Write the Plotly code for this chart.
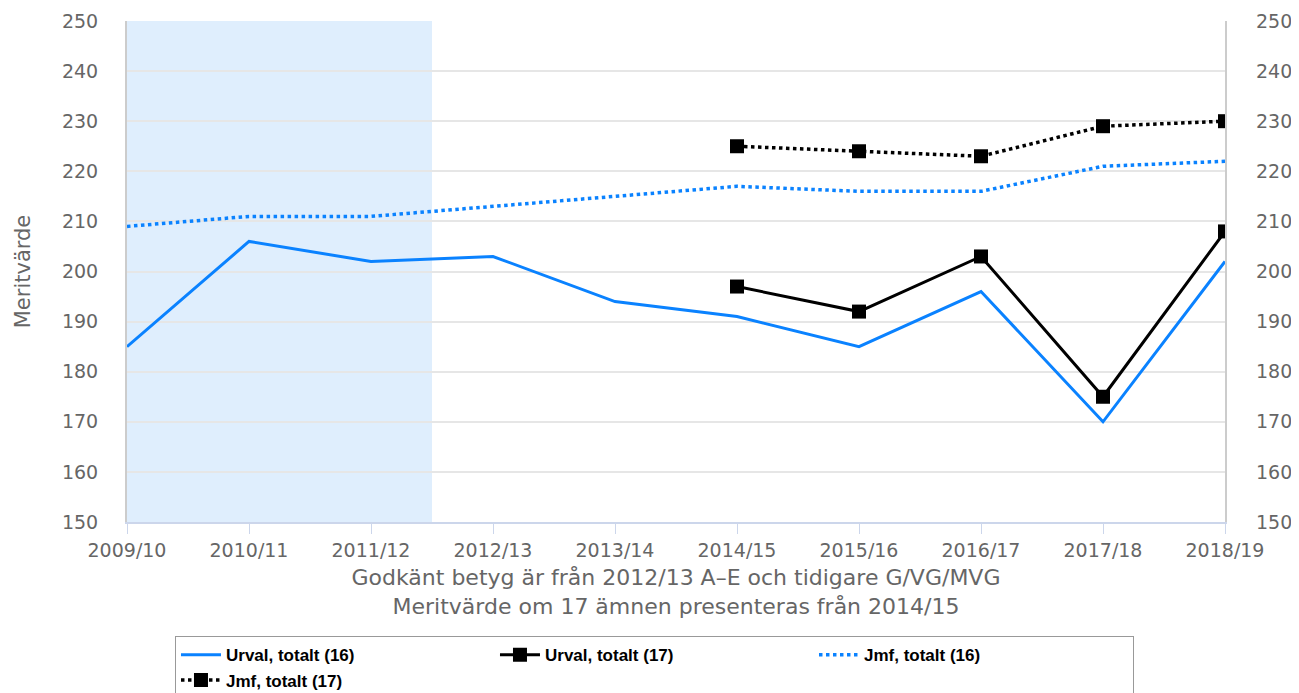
import plotly.graph_objects as go

years = ["2009/10", "2010/11", "2011/12", "2012/13", "2013/14",
         "2014/15", "2015/16", "2016/17", "2017/18", "2018/19"]
urval16 = [185, 206, 202, 203, 194, 191, 185, 196, 170, 202]
urval17 = [None, None, None, None, None, 197, 192, 203, 175, 208]
jmf16 = [209, 211, 211, 213, 215, 217, 216, 216, 221, 222]
jmf17 = [None, None, None, None, None, 225, 224, 223, 229, 230]
y_ticks = [150, 160, 170, 180, 190, 200, 210, 220, 230, 240, 250]

blue = "#0A82FF"
gray_txt = "#666666"
tick_font = dict(family="DejaVu Sans", size=19, color=gray_txt)
xi = list(range(len(years)))

fig = go.Figure()
fig.add_trace(go.Scatter(x=xi, y=urval16, name="Urval, totalt (16)", mode="lines",
                         line=dict(color=blue, width=3)))
fig.add_trace(go.Scatter(x=xi, y=urval17, name="Urval, totalt (17)", mode="lines+markers",
                         line=dict(color="black", width=3),
                         marker=dict(symbol="square", size=14, color="black")))
fig.add_trace(go.Scatter(x=xi, y=jmf16, name="Jmf, totalt (16)", mode="lines",
                         line=dict(color=blue, width=3.5, dash="dot")))
fig.add_trace(go.Scatter(x=xi, y=jmf17, name="Jmf, totalt (17)", mode="lines+markers",
                         line=dict(color="black", width=3.5, dash="dot"),
                         marker=dict(symbol="square", size=14, color="black")))
fig.add_trace(go.Scatter(x=[], y=[], yaxis="y2", showlegend=False, hoverinfo="skip"))

fig.add_vrect(x0=0, x1=2.5, fillcolor="#DFEEFD", line_width=0, layer="below")

fig.update_layout(
    width=1291, height=685,
    margin=dict(l=119, r=74, t=13, b=171, autoexpand=False),
    paper_bgcolor="white", plot_bgcolor="white",
    xaxis=dict(range=[0, 9], tickmode="array", tickvals=xi, ticktext=years,
               showgrid=False, zeroline=False, showline=True, linecolor="#CCD6EB",
               linewidth=2, ticks="outside", ticklen=10, tickcolor="#CCD6EB", tickwidth=1,
               tickfont=tick_font, automargin=False,
               title=dict(text="Godkänt betyg är från 2012/13 A–E och tidigare G/VG/MVG<br>"
                               "Meritvärde om 17 ämnen presenteras från 2014/15",
                          font=dict(family="DejaVu Sans", size=22, color=gray_txt),
                          standoff=10)),
    yaxis=dict(range=[150, 250], tickvals=y_ticks, showgrid=True, gridcolor="#E6E6E6",
               gridwidth=1.5, zeroline=False, showline=True, linecolor="#CCCCCC",
               linewidth=2, mirror=True, tickfont=tick_font, ticklen=0, ticks="",
               ticklabelstandoff=23, automargin=False,
               title=dict(text="Meritvärde", font=dict(family="DejaVu Sans", size=21, color=gray_txt),
                          standoff=26)),
    yaxis2=dict(range=[150, 250], tickvals=y_ticks, overlaying="y", side="right",
                showgrid=False, zeroline=False, showline=False, tickfont=tick_font,
                ticklabelstandoff=30, automargin=False),
    legend=dict(orientation="h", x=0.0437, xanchor="left", y=-0.228, yanchor="top",
                bordercolor="#999999", borderwidth=1, bgcolor="white",
                font=dict(family="Liberation Sans", size=17, color="black", weight="bold"),
                entrywidth=264, itemwidth=40),
    showlegend=True,
)

fig.write_html("out.html")
